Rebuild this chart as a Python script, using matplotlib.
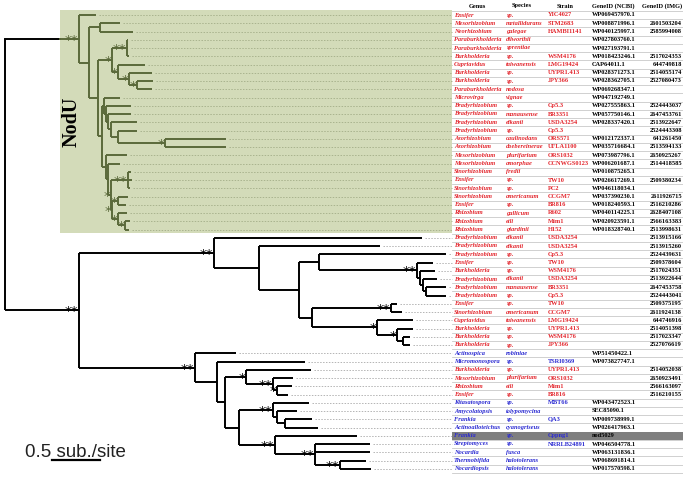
import re
import matplotlib
matplotlib.use("Agg")
import matplotlib.pyplot as plt
from matplotlib.patches import Rectangle

# ------------------------------------------------------------
# Datos: arbol (longitudes de rama en sub./site) y tabla
# ------------------------------------------------------------
nodu_clade = (
    "(t1:0.177,((t2:0.208,t3:0.344):0.115,"
    "(((t4:0.010,t5:0.010,t6:0.021)**:0.156,"
    "(t7:0.281,(t8:0.240,(t9:0.167,t10:0.156)*:0.083)*:0.115)*:0.063)*:0.146,"
    "((t11:0.167,(t12:0.260,(t13:0.240,(t14:0.271,(t15:0.198,"
    "(t16:0.635,t17:0.635)*:0.490):0.073):0.031):0.021):0.021):0.021,"
    "(t18:0.219,(t19:0.125,((t20:0.031,t21:0.042,t22:0.021)**:0.177,"
    "((t23:0.104,t24:0.083)*:0.063,(t25:0.094,(t26:0.052,t27:0.042)*:0.073)*:0.063)*:0.010)*:0.031)"
    ":0.021):0.042):0.042):0.094):0.104)**:0.771"
)
other_clade = (
    "((t28:2.167,(t29:1.260,((t30:1.323,(t31:0.167,(t32:0.156,(t33:0.146,"
    "(t34:0.208,t35:0.208):0.031):0.031):0.031)**:1.021):0.208,"
    "((t36:0.063,t37:0.115)**:0.823,(t38:0.375,(t39:0.167,(t40:0.073,t41:0.073):0.063)*:0.208)*:0.677)"
    ":0.135):0.417):0.469)**:1.406,"
    "(t42:0.427,(t43:0.917,((t44:0.677,(t45:0.208,(t46:0.156,t47:0.115)*:0.042)**:0.281)*:0.219,"
    "((t48:0.375,(t49:0.208,(t50:0.281,t51:0.344):0.083):0.042)**:0.354,"
    "(t52:0.854,(t53:0.573,t54:0.573,(t55:0.271,t56:0.323)**:0.260)**:0.417)**:0.375):0.146)"
    ":0.083):0.229)**:1.208)**:0.771"
)
newick = "(" + nodu_clade + "," + other_clade + ");"

genus = ["Ensifer", "Mesorhizobium", "Neorhizobium", "Paraburkholderia", "Paraburkholderia",
         "Burkholderia", "Cupriavidus", "Burkholderia", "Burkholderia", "Paraburkholderia",
         "Microvirga", "Bradyrhizobium", "Bradyrhizobium", "Bradyrhizobium", "Bradyrhizobium",
         "Azorhizobium", "Azorhizobium", "Mesorhizobium", "Mesorhizobium", "Sinorhizobium",
         "Ensifer", "Sinorhizobium", "Sinorhizobium", "Ensifer", "Rhizobium", "Rhizobium",
         "Rhizobium",
         "Bradyrhizobium", "Bradyrhizobium", "Bradyrhizobium", "Ensifer", "Burkholderia",
         "Bradyrhizobium", "Bradyrhizobium", "Bradyrhizobium", "Ensifer", "Sinorhizobium",
         "Cupriavidus", "Burkholderia", "Burkholderia", "Burkholderia",
         "Actinospica", "Micromonospora", "Burkholderia", "Mesorhizobium", "Rhizobium",
         "Ensifer", "Kitasatospora", "Amycolatopsis", "Frankia", "Actinoalloteichus",
         "Frankia", "Streptomyces", "Nocardia", "Thermobifida", "Nocardiopsis"]
species = ["sp.", "metallidurans", "galegae", "dilworthii", "sprentiae", "sp.", "taiwanensis",
           "sp.", "sp.", "nodosa", "vignae", "sp.", "manausense", "elkanii", "sp.",
           "caulinodans", "doebereinerae", "plurifarium", "amorphae", "fredii", "sp.", "sp.",
           "americanum", "sp.", "gallicum", "etli", "giardinii",
           "elkanii", "elkanii", "sp.", "sp.", "sp.", "elkanii", "manausense", "sp.", "sp.",
           "americanum", "taiwanensis", "sp.", "sp.", "sp.",
           "robiniae", "sp.", "sp.", "plurifarium", "etli", "sp.", "sp.", "tolypomycina", "sp.",
           "cyanogriseus", "sp.", "sp.", "fusca", "halotolerans", "halotolerans"]
strain = ["YIC4027", "STM2683", "HAMBI1141", "", "", "WSM4176", "LMG19424", "UYPR1.413",
          "JPY366", "", "", "Cp5.3", "BR3351", "USDA3254", "Cp5.3", "ORS571", "UFLA1100",
          "ORS1032", "CCNWGS0123", "", "TW10", "PC2", "CCGM7", "BR816", "R602", "Mim1", "H152",
          "USDA3254", "USDA3254", "Cp5.3", "TW10", "WSM4176", "USDA3254", "BR3351", "Cp5.3",
          "TW10", "CCGM7", "LMG19424", "UYPR1.413", "WSM4176", "JPY366",
          "", "TSRI0369", "UYPR1.413", "ORS1032", "Mim1", "BR816", "MBT66", "", "QA3", "",
          "Cppng1", "NRRLB24891", "", "", ""]
ncbi = ["WP069457970.1", "WP008871996.1", "WP040125997.1", "WP027803760.1", "WP027193791.1",
        "WP018423246.1", "CAP64011.1", "WP028371273.1", "WP028362705.1", "WP069268347.1",
        "WP047192749.1", "WP027555863.1", "WP057750146.1", "WP028337420.1", "",
        "WP012172337.1", "WP035716684.1", "WP073987796.1", "WP006201687.1", "WP010875265.1",
        "WP026617269.1", "WP046118034.1", "WP037390230.1", "WP018240593.1", "WP040114225.1",
        "WP020923591.1", "WP018328740.1"] + [""] * 14 + [
        "WP51450422.1", "WP073827747.1", "", "", "", "", "WP043472523.1", "SEC85090.1",
        "WP009738999.1", "WP026417963.1", "nod5029", "WP046504778.1", "WP063131836.1",
        "WP068691814.1", "WP017570598.1"]
img = ["", "2601503204", "2585994008", "", "", "2517024353", "644749818", "2514055174",
       "2527080473", "", "", "2524443037", "2647453761", "2513922647", "2524443308",
       "641261450", "2513594133", "2650925267", "2514418585", "", "2509380234", "",
       "2611926715", "2516210286", "2628407108", "2566163383", "2513998631",
       "2513915166", "2513915260", "2524439631", "2509378604", "2517024351", "2513922644",
       "2647453758", "2524443041", "2509375195", "2611924138", "644746916", "2514051398",
       "2517023347", "2527076619",
       "", "", "2514052038", "2650923491", "2566163097", "2516210155"] + [""] * 9
phylum = (["Proteobacteria"] * 41 + ["Actinobacteria"] * 2 + ["Proteobacteria"] * 4
          + ["Actinobacteria"] * 9)
highlight_strain = "Cppng1"
scale_len = 0.5

# ------------------------------------------------------------
# Parser Newick muy simple
# ------------------------------------------------------------
def parse_newick(s):
    s = s.strip().rstrip(";")
    pos = 0

    def node():
        nonlocal pos
        n = {"children": [], "name": "", "bl": 0.0}
        if s[pos] == "(":
            pos += 1
            while True:
                n["children"].append(node())
                if s[pos] == ",":
                    pos += 1
                    continue
                pos += 1  # ')'
                break
        m = re.match(r"[^:,()]*", s[pos:])
        n["name"] = m.group(0)
        pos += len(n["name"])
        if pos < len(s) and s[pos] == ":":
            m = re.match(r":([0-9.]+)", s[pos:])
            n["bl"] = float(m.group(1))
            pos += len(m.group(0))
        return n

    return node()


tree = parse_newick(newick)
leaves = []


def layout(n, x0, green):
    n["x"] = x0 + n["bl"]
    n["green"] = green
    if not n["children"]:
        n["y"] = len(leaves)
        leaves.append(n)
    else:
        for c in n["children"]:
            layout(c, n["x"], green)
        n["y"] = (n["children"][0]["y"] + n["children"][-1]["y"]) / 2


tree["x"] = 0.0
tree["green"] = False
for i, c in enumerate(tree["children"]):
    layout(c, 0.0, i == 0)
tree["y"] = (tree["children"][0]["y"] + tree["children"][-1]["y"]) / 2

# ------------------------------------------------------------
# Figura (1 unidad x = 96 px, 1 fila = 8.25 px)
# ------------------------------------------------------------
W, H = 683, 479
PX_UNIT, ROW_PX, X0_PX, Y0_PX = 96.0, 8.25, 5.0, 15.0


def px(xp):
    return (xp - X0_PX) / PX_UNIT


def py(yp):
    return (yp - Y0_PX) / ROW_PX


fig = plt.figure(figsize=(W / 100, H / 100), dpi=100)
ax = fig.add_axes([0, 0, 1, 1])
ax.set_xlim(px(0), px(W))
ax.set_ylim(py(H), py(0))
ax.axis("off")

OLIVE = "#5a693a"
GREEN_BG = "#d3dbb9"
RED = "#e3262d"
BLUE = "#2a2ad2"
TABLE_X = px(452)
n_rows = len(genus)

# caja verde NodU
nodu = tree["children"][0]
ax.add_patch(Rectangle((px(60), -0.6), TABLE_X - px(60), 27 - 1 + 1.05,
                       facecolor=GREEN_BG, edgecolor="none", zorder=0))
ax.text(px(72), py(122), "NodU", rotation=90, ha="center", va="center",
        fontsize=14.5, fontweight="bold", family="Liberation Serif", zorder=3)

LW = 1.4


def draw(n):
    col = OLIVE if n["green"] else "black"
    if n["children"]:
        ys = [c["y"] for c in n["children"]]
        ax.plot([n["x"], n["x"]], [min(ys), max(ys)], color=col, lw=LW,
                solid_capstyle="butt", zorder=2)
        for c in n["children"]:
            ccol = OLIVE if c["green"] else "black"
            if c is nodu:
                ax.plot([n["x"], px(60)], [c["y"]] * 2, color="black", lw=LW, zorder=2)
                ax.plot([px(60), c["x"]], [c["y"]] * 2, color=OLIVE, lw=LW, zorder=2)
            else:
                ax.plot([n["x"], c["x"]], [c["y"]] * 2, color=ccol, lw=LW,
                        solid_capstyle="butt", zorder=2)
            draw(c)
        if n["name"]:
            ax.annotate(n["name"], (n["x"], n["y"]), xytext=(-0.5, -3.6),
                        textcoords="offset points", ha="right", va="baseline",
                        fontsize=9.5, color=col, family="DejaVu Sans", zorder=3)
    else:
        lead = "#a9b38e" if n["green"] else "#b4b4b4"
        ax.plot([n["x"] + px(8) - px(5), TABLE_X], [n["y"]] * 2, color=lead, lw=0.7,
                linestyle=(0, (1.5, 1.5)), zorder=1)


draw(tree)

# barra de escala
sb_x = px(52)
sb_y = py(460)
ax.plot([sb_x, sb_x + scale_len], [sb_y, sb_y], color="black", lw=1.6)
ax.text(px(25), py(457), "0.5 sub./site", ha="left", va="baseline", fontsize=13.5,
        family="Liberation Sans", color="#222222")

# ------------------------------------------------------------
# Tabla
# ------------------------------------------------------------
SERIF = "Liberation Serif"
FS = 4.6
hdr_y = py(6)
hdr = dict(fontsize=FS, fontweight="bold", family=SERIF, va="center")
ax.text(px(477), hdr_y, "Genus", ha="center", **hdr)
ax.text(px(522), hdr_y, "Species", ha="center", **hdr)
ax.text(px(565), hdr_y, "Strain", ha="center", **hdr)
ax.text(px(592), hdr_y, "GeneID (NCBI)", ha="left", **hdr)
ax.text(px(682), hdr_y, "GeneID (IMG)", ha="right", **hdr)

for i in range(-1, n_rows):
    ax.plot([TABLE_X, px(W)], [i + 0.5] * 2, color="#c9c9c9", lw=0.6, zorder=1)

for i in range(n_rows):
    if strain[i] == highlight_strain:
        ax.add_patch(Rectangle((TABLE_X, i - 0.5), px(W) - TABLE_X, 1.0,
                               facecolor="#7f7f7f", edgecolor="none", zorder=1))
    c = RED if phylum[i] == "Proteobacteria" else BLUE
    ax.text(px(454), i, genus[i], color=c, fontsize=FS, fontweight="bold", style="italic",
            family=SERIF, va="center", ha="left", zorder=4)
    ax.text(px(506), i, species[i], color=c, fontsize=FS, fontweight="bold", style="italic",
            family=SERIF, va="center", ha="left", zorder=4)
    ax.text(px(548), i, strain[i], color=c, fontsize=FS, fontweight="bold",
            family=SERIF, va="center", ha="left", zorder=4)
    ax.text(px(592), i, ncbi[i], color="black", fontsize=FS, fontweight="bold",
            family=SERIF, va="center", ha="left", zorder=4)
    ax.text(px(682), i, img[i], color="black", fontsize=FS, fontweight="bold",
            family=SERIF, va="center", ha="right", zorder=4)

fig.savefig("out.png", dpi=100)
